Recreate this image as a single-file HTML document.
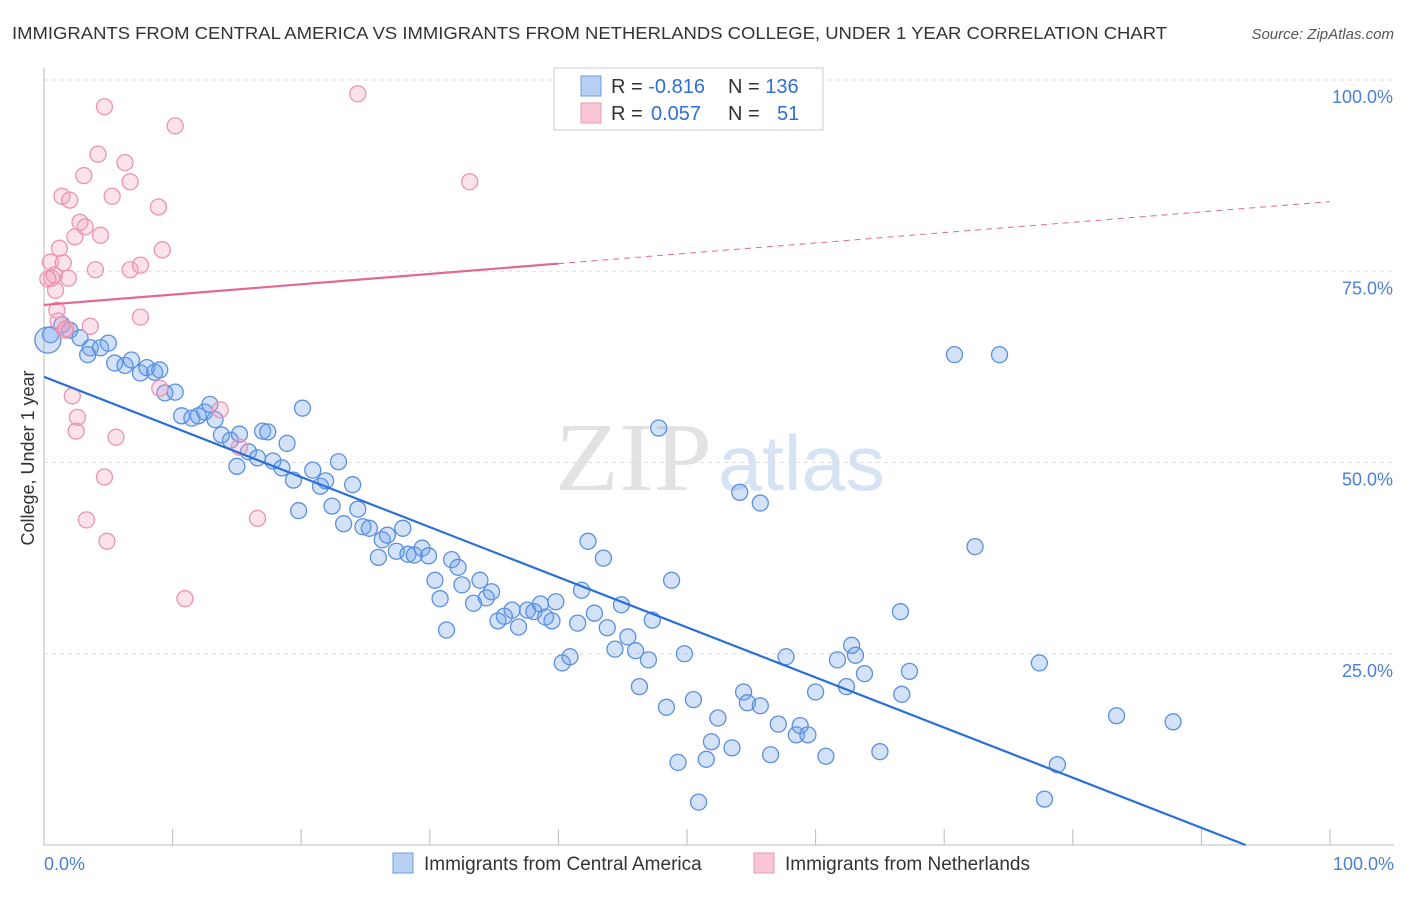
<!DOCTYPE html>
<html><head><meta charset="utf-8"><style>
body{margin:0;background:#fff;font-family:"Liberation Sans",sans-serif;}
svg text{font-family:"Liberation Sans",sans-serif;}
</style></head><body>
<svg id="chart" width="1406" height="892">
<text x="12" y="39" font-size="17.5" fill="#333" textLength="1155" lengthAdjust="spacingAndGlyphs">IMMIGRANTS FROM CENTRAL AMERICA VS IMMIGRANTS FROM NETHERLANDS COLLEGE, UNDER 1 YEAR CORRELATION CHART</text>
<text x="1394" y="39" font-size="15" fill="#555" font-style="italic" text-anchor="end">Source: ZipAtlas.com</text>
<text x="555" y="490" font-size="98" fill="#e2e2e2" textLength="157" lengthAdjust="spacingAndGlyphs" style="font-family:'Liberation Serif',serif">ZIP</text>
<text x="718" y="490" font-size="78" fill="#d5e3f4" textLength="167" lengthAdjust="spacingAndGlyphs">atlas</text>
<g id="grid"></g><g id="axes"></g><g id="pts"></g><g id="lines"></g>
<g>
<rect x="554" y="68" width="269" height="62" fill="#fff" stroke="#ccc"/>
<rect x="581" y="76" width="20" height="20" fill="#b8d1f3" stroke="#6a9be0"/>
<rect x="581" y="103" width="20" height="20" fill="#f9c6d5" stroke="#ea9ab4"/>
<text x="611" y="93" font-size="20" fill="#333">R = <tspan fill="#2e6fd6">-0.816</tspan><tspan x="728">N = </tspan><tspan fill="#2e6fd6">136</tspan></text>
<text x="611" y="120" font-size="20" fill="#333">R = <tspan x="651" fill="#2e6fd6">0.057</tspan><tspan x="728">N = </tspan><tspan x="777" fill="#2e6fd6">51</tspan></text>
</g>
<g>
<rect x="393" y="853" width="20" height="20" fill="#b8d1f3" stroke="#6a9be0"/>
<text x="424" y="870" font-size="19" fill="#333">Immigrants from Central America</text>
<rect x="754" y="853" width="20" height="20" fill="#f9c6d5" stroke="#ea9ab4"/>
<text x="785" y="870" font-size="19" fill="#333">Immigrants from Netherlands</text>
</g>
<text x="44" y="870" font-size="18" fill="#4a7fd4">0.0%</text>
<text x="1394" y="870" font-size="18" fill="#4a7fd4" text-anchor="end">100.0%</text>
<text transform="translate(34,458) rotate(-90)" font-size="18" fill="#333" text-anchor="middle">College, Under 1 year</text>
</svg>
<script>
const blueX=[0.5,1.4,2.0,2.8,3.6,3.4,4.4,5.0,5.5,6.3,6.8,7.5,8.0,8.6,9.0,9.4,10.2,10.7,11.5,12.0,12.5,12.9,13.3,13.8,14.5,15.0,15.2,15.9,16.6,17.0,17.4,17.8,18.5,18.9,19.4,19.8,20.1,20.9,21.5,21.9,22.4,22.9,23.3,24.0,24.4,24.8,25.3,26.0,26.3,26.7,27.4,27.9,28.3,28.8,29.4,29.9,30.4,30.8,31.3,31.7,32.2,32.5,33.4,33.9,34.4,34.8,35.3,35.8,36.4,36.9,37.6,38.1,38.6,39.0,39.5,39.8,40.3,40.9,41.5,41.8,42.3,42.8,43.5,43.8,44.4,44.9,45.4,46.0,46.3,47.0,47.3,47.8,48.4,48.8,49.3,49.8,50.5,50.9,51.5,51.9,52.4,53.5,54.1,54.4,54.7,55.7,55.7,56.5,57.1,57.7,58.5,58.8,59.4,60.0,60.8,61.7,62.4,62.8,63.1,63.8,65.0,66.6,66.7,67.3,70.8,72.4,74.3,77.4,77.8,78.8,83.4,87.8,0.3];
const blueY=[66.7,68.0,67.3,66.3,65.0,64.1,65.0,65.6,63.0,62.7,63.4,61.7,62.4,61.8,62.1,59.1,59.2,56.1,55.8,56.1,56.6,57.6,55.6,53.6,52.9,49.5,53.7,51.4,50.6,54.1,54.0,50.2,49.3,52.5,47.7,43.7,57.1,49.0,46.9,47.6,44.3,50.1,42.0,47.1,43.9,41.6,41.4,37.6,39.9,40.5,38.4,41.4,38.0,37.9,38.8,37.8,34.6,32.2,28.1,37.3,36.3,34.0,31.6,34.6,32.3,33.1,29.3,29.9,30.7,28.5,30.7,30.5,31.5,29.8,29.3,31.8,23.8,24.6,29.0,33.3,39.7,30.3,37.5,28.4,25.6,31.4,27.2,25.4,20.7,24.2,29.4,54.5,18.0,34.6,10.8,25.0,19.0,5.6,11.2,13.5,16.6,12.7,46.1,20.0,18.6,44.7,18.2,11.8,15.8,24.6,14.4,15.6,14.4,20.0,11.6,24.2,20.7,26.1,24.8,22.4,12.2,30.5,19.7,22.7,64.1,39.0,64.1,23.8,6.0,10.5,16.9,16.1,66.0];
const pinkX=[0.5,0.6,0.8,0.9,1.0,1.1,1.2,1.4,1.5,1.6,1.9,2.0,2.2,2.4,2.5,2.6,2.8,3.1,3.2,3.3,3.6,4.0,4.2,4.4,4.7,4.7,4.9,5.3,5.6,6.3,6.7,6.7,7.5,7.5,8.9,9.0,9.2,10.2,10.96,13.7,15.2,16.6,24.4,33.1,0.3,1.7];
const pinkY=[76.2,74.1,74.5,72.5,69.9,68.5,78.0,84.8,76.1,67.3,74.1,84.3,58.7,79.5,54.1,55.9,81.4,87.5,80.8,42.5,67.8,75.2,90.3,79.7,48.1,96.5,39.7,84.8,53.3,89.2,86.7,75.2,75.8,69.0,83.4,59.7,77.8,94.0,32.2,56.9,52.0,42.7,98.2,86.7,74.0,67.5];
const blueLine=[61.2,-0.655];
const pinkLine=[70.6,0.135];
const yTicks=[25,50,75,100];
const xTicks=[0,10,20,30,40,50,60,70,80,90,100];
const NS='http://www.w3.org/2000/svg';
const X0=44,X1=1330,Y0=845,Y1=80;
const sx=v=>X0+(X1-X0)*v/100, sy=v=>Y0-(Y0-Y1)*v/100;
function mk(tag,attrs,parent){const e=document.createElementNS(NS,tag);for(const k in attrs)e.setAttribute(k,attrs[k]);document.getElementById(parent).appendChild(e);return e;}
yTicks.forEach(t=>{
 const l=mk('line',{x1:X0,x2:1394,y1:sy(t),y2:sy(t),stroke:'#ddd','stroke-dasharray':'4,4'},'grid');
 
 
 const tx=mk('text',{x:1393,y:sy(t)+23,'font-size':18,fill:'#4a7fd4','text-anchor':'end'},'grid');
 tx.textContent=t.toFixed(1)+'%';
 
 
});
const ax=mk('line',{x1:X0,x2:1394,y1:Y0,y2:Y0,stroke:'#bbb'},'axes');


const ay=mk('line',{x1:X0,x2:X0,y1:68,y2:Y0,stroke:'#bbb'},'axes');


xTicks.forEach(t=>{
 const l=mk('line',{x1:sx(t),x2:sx(t),y1:Y0,y2:Y0-16,stroke:'#bbb'},'axes');
 
 
});
blueX.forEach((v,i)=>{
 const c=mk('circle',{cx:sx(v),cy:sy(blueY[i]),r:i==blueX.length-1?13:8,fill:'rgba(110,160,235,0.3)',stroke:'#5a90dc','stroke-width':1.3},'pts');
 
 
});
pinkX.forEach((v,i)=>{
 const c=mk('circle',{cx:sx(v),cy:sy(pinkY[i]),r:8,fill:'rgba(245,160,190,0.3)',stroke:'#ec93b0','stroke-width':1.3},'pts');
 
 
});
const bEnd=-blueLine[0]/blueLine[1];
const bl=mk('line',{x1:sx(0),y1:sy(blueLine[0]),x2:sx(bEnd),y2:sy(0),stroke:'#2a6fd8','stroke-width':2.2},'lines');


const pl=mk('line',{x1:sx(0),y1:sy(pinkLine[0]),x2:sx(40),y2:sy(pinkLine[0]+40*pinkLine[1]),stroke:'#e2688f','stroke-width':2.2},'lines');


const pd=mk('line',{x1:sx(40),y1:sy(pinkLine[0]+40*pinkLine[1]),x2:sx(100),y2:sy(pinkLine[0]+100*pinkLine[1]),stroke:'#e2688f','stroke-width':1,'stroke-dasharray':'6,5'},'lines');


</script>
</body></html>
